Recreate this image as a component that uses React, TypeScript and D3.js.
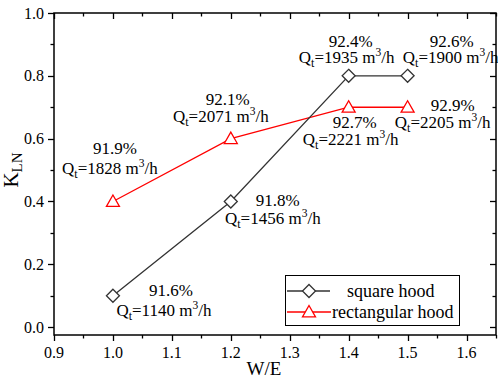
import React from "react";
import * as d3 from "d3";

const wE = [1.0, 1.2, 1.4, 1.5];
const squareK = [0.1, 0.4, 0.8, 0.8];
const rectK = [0.4, 0.6, 0.7, 0.7];
const squarePct = ["91.6%", "91.8%", "92.4%", "92.6%"];
const squareQt = ["1140", "1456", "1935", "1900"];
const rectPct = ["91.9%", "92.1%", "92.7%", "92.9%"];
const rectQt = ["1828", "2071", "2221", "2205"];
const xTicks = [0.9, 1.0, 1.1, 1.2, 1.3, 1.4, 1.5, 1.6];
const yTicks = [0.0, 0.2, 0.4, 0.6, 0.8, 1.0];
const seriesNames = ["square hood", "rectangular hood"];

// label offsets (px) relative to the point: [pctDx, pctDy, qtDx, qtDy]
const squareOff = [
  [58, 0, 51, 20],
  [47, 5, 42, 23],
  [2, -29, -2, -13],
  [44, -29, 43, -13],
];
const rectOff = [
  [2, -47, -3, -27],
  [-3, -34, -10, -17],
  [6, 21, 2, 38],
  [45, 4, 35, 21],
];

const W = 498;
const H = 379;
const L = 54, R = 496, T = 13, B = 335;
const FONT = "Liberation Serif, Times New Roman, Times, serif";

const x = d3.scaleLinear().domain([0.9, 1.65]).range([L, R]);
const y = d3.scaleLinear().domain([-0.025, 1.0]).range([B, T]);

const BLACK = "#333333";
const RED = "#ff0000";

function diamond(cx: number, cy: number, r = 6.5) {
  return `M${cx},${cy - r}L${cx + r},${cy}L${cx},${cy + r}L${cx - r},${cy}Z`;
}
function triangle(cx: number, cy: number, s = 6.5) {
  return `M${cx},${cy - s}L${cx + s},${cy + s * 0.75}L${cx - s},${cy + s * 0.75}Z`;
}

function QtLabel({ cx, cy, q }: { cx: number; cy: number; q: string }) {
  return (
    <text x={cx} y={cy} textAnchor="middle" style={{ fontSize: 17, fontFamily: FONT }} fill="#000">
      Q<tspan style={{ fontSize: 12 }} dy={4}>t</tspan>
      <tspan dy={-4}>={q} m</tspan>
      <tspan style={{ fontSize: 11.5 }} dy={-7}>3</tspan>
      <tspan dy={7}>/h</tspan>
    </text>
  );
}

export default function App() {
  const line = d3
    .line<number>()
    .x((_, i) => x(wE[i]))
    .y((d) => y(d));

  const xMinor = d3.range(0.9, 1.651, 0.05);
  const yMinor = d3.range(0, 1.001, 0.1);
  const ts = { fontSize: 16, fontFamily: FONT };
  const as = { fontSize: 17, fontFamily: FONT };
  const ls = { fontSize: 18, fontFamily: FONT };

  return (
    <svg
      width={W}
      height={H}
      style={{ position: "absolute", left: 0, top: 0, background: "#fff", fontFamily: FONT }}
    >
      <rect x={0} y={0} width={W} height={H} fill="#fff" />
      {/* frame */}
      <rect x={L} y={T} width={R - L} height={B - T} fill="none" stroke="#000" strokeWidth={1.5} />
      {/* x ticks */}
      {xMinor.map((v, i) => {
        const major = i % 2 === 0;
        const len = major ? 6 : 3.5;
        const px = Math.round(x(v)) + 0.5;
        return (
          <g key={"xt" + i}>
            <line x1={px} x2={px} y1={B} y2={B + len} stroke="#000" strokeWidth={1.3} />
            <line x1={px} x2={px} y1={T} y2={T + len} stroke="#000" strokeWidth={1.3} />
          </g>
        );
      })}
      {xTicks.map((v) => (
        <text key={"xl" + v} x={x(v)} y={358} textAnchor="middle" style={ts}>
          {v.toFixed(1)}
        </text>
      ))}
      {/* y ticks */}
      {yMinor.map((v, i) => {
        const major = i % 2 === 0;
        const len = major ? 6 : 3.5;
        const py = Math.round(y(v)) + 0.5;
        return (
          <g key={"yt" + i}>
            <line x1={L} x2={L - len} y1={py} y2={py} stroke="#000" strokeWidth={1.3} />
            <line x1={R} x2={R - len} y1={py} y2={py} stroke="#000" strokeWidth={1.3} />
          </g>
        );
      })}
      {yTicks.map((v) => (
        <text key={"yl" + v} x={44} y={y(v) + 5.5} textAnchor="end" style={ts}>
          {v.toFixed(1)}
        </text>
      ))}
      {/* axis titles */}
      <text x={264} y={375} textAnchor="middle" style={{ fontSize: 19, fontFamily: FONT }}>
        W/E
      </text>
      <text
        transform="translate(18,170) rotate(-90)"
        textAnchor="middle"
        style={{ fontSize: 21, fontFamily: FONT }}
      >
        K<tspan style={{ fontSize: 15 }} dy={4}>LN</tspan>
      </text>

      {/* series lines */}
      <path d={line(rectK) || ""} fill="none" stroke={RED} strokeWidth={1.3} />
      <path d={line(squareK) || ""} fill="none" stroke={BLACK} strokeWidth={1.3} />
      {rectK.map((v, i) => (
        <path key={"rm" + i} d={triangle(x(wE[i]), y(v))} fill="#fff" stroke={RED} strokeWidth={1.3} />
      ))}
      {squareK.map((v, i) => (
        <path key={"sm" + i} d={diamond(x(wE[i]), y(v))} fill="#fff" stroke={BLACK} strokeWidth={1.3} />
      ))}

      {/* annotations */}
      {squareK.map((v, i) => {
        const px = x(wE[i]);
        const py = y(v);
        const o = squareOff[i];
        return (
          <g key={"sa" + i}>
            <text x={px + o[0]} y={py + o[1]} textAnchor="middle" style={as}>
              {squarePct[i]}
            </text>
            <QtLabel cx={px + o[2]} cy={py + o[3]} q={squareQt[i]} />
          </g>
        );
      })}
      {rectK.map((v, i) => {
        const px = x(wE[i]);
        const py = y(v);
        const o = rectOff[i];
        return (
          <g key={"ra" + i}>
            <text x={px + o[0]} y={py + o[1]} textAnchor="middle" style={as}>
              {rectPct[i]}
            </text>
            <QtLabel cx={px + o[2]} cy={py + o[3]} q={rectQt[i]} />
          </g>
        );
      })}

      {/* legend */}
      <rect x={285.5} y={275.5} width={174} height={50} fill="#fff" stroke="#000" strokeWidth={1} />
      <line x1={287} x2={330} y1={291} y2={291} stroke={BLACK} strokeWidth={1.3} />
      <path d={diamond(309, 291)} fill="#fff" stroke={BLACK} strokeWidth={1.3} />
      <text x={347} y={297} style={ls}>
        {seriesNames[0]}
      </text>
      <line x1={287} x2={331} y1={312} y2={312} stroke={RED} strokeWidth={1.3} />
      <path d={triangle(309, 312)} fill="#fff" stroke={RED} strokeWidth={1.3} />
      <text x={332} y={318} style={ls}>
        {seriesNames[1]}
      </text>
    </svg>
  );
}
